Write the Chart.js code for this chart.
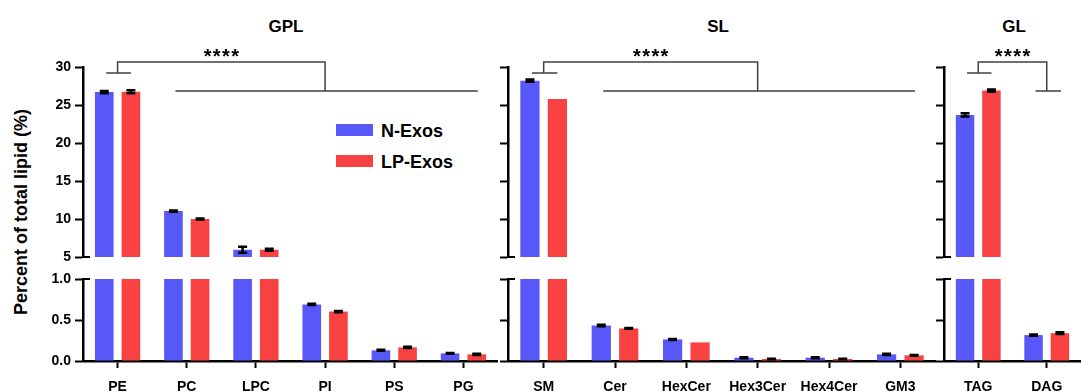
<!DOCTYPE html>
<html>
<head>
<meta charset="utf-8">
<script src="https://cdn.jsdelivr.net/npm/chart.js@4.4.1/dist/chart.umd.min.js"></script>
<style>
    body { margin: 0; background: #fff; width: 1081px; height: 392px; position: relative; overflow: hidden;
           font-family: "Liberation Sans", Arial, sans-serif; }
    canvas { position: absolute; }
    .txt { position: absolute; font-weight: bold; color: #000; white-space: nowrap; line-height: 1; }
    .box { position: absolute; width: 37px; height: 12px; }
</style>
</head>
<body>
<div class="txt" id="ytitle" style="font-size:18px;left:21px;top:212px;transform:translate(-50%,-50%) rotate(-90deg);">Percent of total lipid  (%)</div>
<div class="txt" style="font-size:17px;left:286px;top:18px;transform:translateX(-50%);">GPL</div>
<div class="txt" style="font-size:17px;left:718px;top:18px;transform:translateX(-50%);">SL</div>
<div class="txt" style="font-size:17px;left:1014px;top:18px;transform:translateX(-50%);">GL</div>
<div class="box" style="left:336px;top:124px;background:#5858F8;"></div>
<div class="box" style="left:336px;top:155px;background:#F84242;"></div>
<div class="txt" style="font-size:18px;left:381px;top:122px;">N-Exos</div>
<div class="txt" style="font-size:18px;left:381px;top:153px;">LP-Exos</div>

<canvas id="gplTop" width="460" height="270" style="left:38px;top:0;"></canvas>
<canvas id="gplBot" width="460" height="127" style="left:38px;top:265px;"></canvas>
<canvas id="slTop" width="438" height="270" style="left:498px;top:0;"></canvas>
<canvas id="slBot" width="438" height="127" style="left:498px;top:265px;"></canvas>
<canvas id="glTop" width="147" height="270" style="left:934px;top:0;"></canvas>
<canvas id="glBot" width="147" height="127" style="left:934px;top:265px;"></canvas>

<script>
// values (% of total lipid)
const gplLabels = ['PE', 'PC', 'LPC', 'PI', 'PS', 'PG'];
const gplN = [26.7, 11.05, 5.95, 0.69, 0.13, 0.093];
const gplNErr = [0.15, 0.08, 0.4, 0.008, 0.006, 0.005];
const gplLP = [26.75, 10.0, 5.95, 0.603, 0.166, 0.081];
const gplLPErr = [0.2, 0.08, 0.12, 0.008, 0.008, 0.008];

const slLabels = ['SM', 'Cer', 'HexCer', 'Hex3Cer', 'Hex4Cer', 'GM3'];
const slN = [28.2, 0.433, 0.263, 0.04, 0.04, 0.081];
const slNErr = [0.15, 0.01, 0.006, 0.005, 0.005, 0.008];
const slLP = [25.8, 0.397, 0.227, 0.025, 0.025, 0.069];
const slLPErr = [0, 0.004, 0, 0.003, 0.003, 0.004];

const glLabels = ['TAG', 'DAG'];
const glN = [23.7, 0.316];
const glNErr = [0.2, 0.008];
const glLP = [26.9, 0.34];
const glLPErr = [0.15, 0.01];

const BLUE = '#5858F8';
const RED = '#F84242';
const FONT = '"Liberation Sans", Arial, sans-serif';

const PANELS = [
    { key: 'gpl', labels: gplLabels, n: gplN, nErr: gplNErr, lp: gplLP, lpErr: gplLPErr,
      yw: 45, tickLabels: true, groupA: [0, 0], groupB: [1, 5] },
    { key: 'sl', labels: slLabels, n: slN, nErr: slNErr, lp: slLP, lpErr: slLPErr,
      yw: 10, tickLabels: false, groupA: [0, 0], groupB: [1, 5] },
    { key: 'gl', labels: glLabels, n: glN, nErr: glNErr, lp: glLP, lpErr: glLPErr,
      yw: 10, tickLabels: false, groupA: [0, 0], groupB: [1, 1] },
];

// bracket heights, in units of the upper axis
const BRACKET = { shortY: 29.2, topY: 30.66, longY: 26.84 };

const errorBars = {
    id: 'errorBars',
    afterDraw(chart) {
        const ctx = chart.ctx;
        const y = chart.scales.y;
        ctx.save();
        ctx.strokeStyle = '#000';
        ctx.lineWidth = 2.5;
        chart.data.datasets.forEach((ds, d) => {
            chart.getDatasetMeta(d).data.forEach((bar, i) => {
                const v = ds.data[i], e = ds.err[i];
                if (!e || v < y.min || v > y.max) return;
                const y1 = y.getPixelForValue(v + e), y2 = y.getPixelForValue(v - e);
                ctx.beginPath();
                ctx.moveTo(bar.x, y1); ctx.lineTo(bar.x, y2);
                ctx.moveTo(bar.x - 4.5, y1); ctx.lineTo(bar.x + 4.5, y1);
                ctx.moveTo(bar.x - 4.5, y2); ctx.lineTo(bar.x + 4.5, y2);
                ctx.stroke();
            });
        });
        ctx.restore();
    }
};

const brackets = {
    id: 'brackets',
    afterDraw(chart, args, opts) {
        const ctx = chart.ctx;
        const y = chart.scales.y;
        const blue = chart.getDatasetMeta(0).data;
        const red = chart.getDatasetMeta(1).data;
        const a0 = blue[opts.groupA[0]].x, a1 = red[opts.groupA[1]].x;
        const b0 = blue[opts.groupB[0]].x, b1 = red[opts.groupB[1]].x;
        const am = (a0 + a1) / 2, bm = (b0 + b1) / 2;
        const ys = y.getPixelForValue(BRACKET.shortY);
        const yt = y.getPixelForValue(BRACKET.topY);
        const yl = y.getPixelForValue(BRACKET.longY);
        ctx.save();
        ctx.strokeStyle = '#404040';
        ctx.lineWidth = 1.5;
        ctx.beginPath();
        ctx.moveTo(a0 + 2, ys); ctx.lineTo(a1, ys);
        ctx.moveTo(am, ys); ctx.lineTo(am, yt); ctx.lineTo(bm, yt); ctx.lineTo(bm, yl);
        ctx.moveTo(b0 + 2, yl); ctx.lineTo(b1 + 1, yl);
        ctx.stroke();
        ctx.fillStyle = '#000';
        ctx.font = 'bold 20px ' + FONT;
        ctx.textAlign = 'center';
        ctx.textBaseline = 'alphabetic';
        const cx = (am + bm) / 2;
        for (let k = 0; k < 4; k++) {
            ctx.fillText('*', cx + (k - 1.5) * 9.2, yt + 1);
        }
        ctx.restore();
    }
};

// little crossbar where the y axis is broken
const breakMark = {
    id: 'breakMark',
    afterDraw(chart, args, opts) {
        const ctx = chart.ctx;
        const y = chart.scales.y;
        const yy = opts.atTop ? y.top : y.bottom;
        ctx.save();
        ctx.strokeStyle = '#000';
        ctx.lineWidth = 2;
        ctx.beginPath();
        ctx.moveTo(chart.chartArea.left, yy);
        ctx.lineTo(chart.chartArea.left + 7, yy);
        ctx.stroke();
        ctx.restore();
    }
};

function makeChart(panel, upper) {
    const canvas = document.getElementById(panel.key + (upper ? 'Top' : 'Bot'));
    const tickFont = { size: 14, weight: 'bold', family: FONT };
    const xScale = {
        display: !upper,
        offset: true,
        grid: { offset: false, drawOnChartArea: false, drawTicks: true, tickLength: 7, tickWidth: 2, tickColor: '#000' },
        border: { display: true, color: '#000', width: 2.5 },
        ticks: { color: '#000', font: tickFont, padding: 11, maxRotation: 0, autoSkip: false },
    };
    if (!upper) xScale.afterFit = s => { s.height = 31; };
    return new Chart(canvas, {
        type: 'bar',
        data: {
            labels: panel.labels,
            datasets: [
                { label: 'N-Exos', data: panel.n, err: panel.nErr, backgroundColor: BLUE },
                { label: 'LP-Exos', data: panel.lp, err: panel.lpErr, backgroundColor: RED },
            ],
        },
        options: {
            responsive: false,
            animation: false,
            events: [],
            layout: { padding: upper ? { top: 67, bottom: 13, left: 0, right: 0 } : { top: 14, bottom: 0, left: 0, right: 0 } },
            datasets: { bar: { categoryPercentage: 0.77, barPercentage: 0.7 } },
            plugins: {
                legend: { display: false },
                tooltip: { enabled: false },
                brackets: { groupA: panel.groupA, groupB: panel.groupB },
                breakMark: { atTop: !upper },
            },
            scales: {
                x: xScale,
                y: {
                    min: upper ? 5 : 0,
                    max: upper ? 30 : 1,
                    ticks: {
                        stepSize: upper ? 5 : 0.5,
                        display: panel.tickLabels,
                        color: '#000',
                        font: tickFont,
                        padding: 4,
                        callback: v => upper ? v : v.toFixed(1),
                    },
                    grid: { drawOnChartArea: false, tickLength: 8, tickWidth: 2, tickColor: '#000' },
                    border: { color: '#000', width: 2.5 },
                    afterFit: s => { s.width = panel.yw; },
                },
            },
        },
        plugins: upper ? [errorBars, brackets, breakMark] : [errorBars, breakMark],
    });
}

PANELS.forEach(p => {
    makeChart(p, true);
    makeChart(p, false);
});
</script>
</body>
</html>
